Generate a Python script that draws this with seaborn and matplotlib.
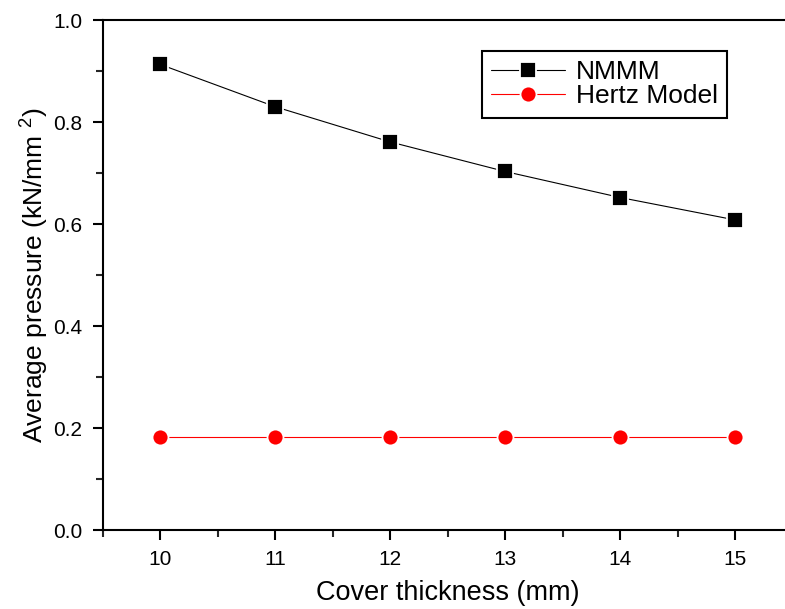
import numpy as np
import pandas as pd
import seaborn as sns
import matplotlib
matplotlib.use("Agg")
import matplotlib.pyplot as plt
from matplotlib.ticker import MultipleLocator, FormatStrFormatter

sns.set_style("ticks")
plt.rcParams['font.family'] = ['Liberation Sans', 'DejaVu Sans']
plt.rcParams['mathtext.fontset'] = 'custom'
plt.rcParams['mathtext.rm'] = 'Liberation Sans'
plt.rcParams['mathtext.it'] = 'Liberation Sans'
plt.rcParams['text.color'] = 'black'
plt.rcParams['axes.labelcolor'] = 'black'

# data
thickness = [10, 11, 12, 13, 14, 15]
nmmm = [0.913, 0.830, 0.761, 0.703, 0.652, 0.608]
hertz = [0.182, 0.182, 0.182, 0.182, 0.182, 0.182]
series_names = ["NMMM", "Hertz Model"]

df = pd.DataFrame({
    "thickness": thickness * 2,
    "pressure": nmmm + hertz,
    "model": [series_names[0]] * len(thickness) + [series_names[1]] * len(thickness),
})

fig = plt.figure(figsize=(7.85, 6.09), dpi=100)
ax = fig.add_axes([0.1308, 0.1297, 0.879, 0.8374])

sns.lineplot(data=df[df.model == "NMMM"], x="thickness", y="pressure", ax=ax,
             color="black", lw=0.8, marker="s", markersize=11,
             markeredgecolor="white", markeredgewidth=1.3, label="NMMM")
sns.lineplot(data=df[df.model == "Hertz Model"], x="thickness", y="pressure", ax=ax,
             color="red", lw=0.8, marker="o", markersize=11.5,
             markeredgecolor="white", markeredgewidth=1.3, label="Hertz Model")

ax.set_xlim(9.5, 15.5)
ax.set_ylim(0.0, 1.0)
ax.xaxis.set_major_locator(MultipleLocator(1))
ax.xaxis.set_minor_locator(MultipleLocator(0.5))
ax.yaxis.set_major_locator(MultipleLocator(0.2))
ax.yaxis.set_minor_locator(MultipleLocator(0.1))
ax.yaxis.set_major_formatter(FormatStrFormatter("%.1f"))

for s in ax.spines.values():
    s.set_linewidth(1.5)
    s.set_color("black")
ax.tick_params(which="major", direction="out", length=7.5, width=1.5,
               labelsize=15, colors="black", labelcolor="black", pad=7)
ax.tick_params(which="minor", direction="out", length=5, width=1.5)

ax.set_xlabel("Cover thickness (mm)", fontsize=19.5, labelpad=8)
ax.set_ylabel("Average pressure (kN/mm $^{2}$)", fontsize=19, labelpad=2)

leg = ax.legend(loc="upper right", bbox_to_anchor=(0.905, 0.939), borderaxespad=0,
                fontsize=19, handlelength=2.8, fancybox=False, frameon=True,
                framealpha=1, edgecolor="black", borderpad=0.35, labelspacing=0.0,
                handletextpad=0.4)
leg.get_frame().set_linewidth(1.5)

fig.savefig("out.png", dpi=100)
